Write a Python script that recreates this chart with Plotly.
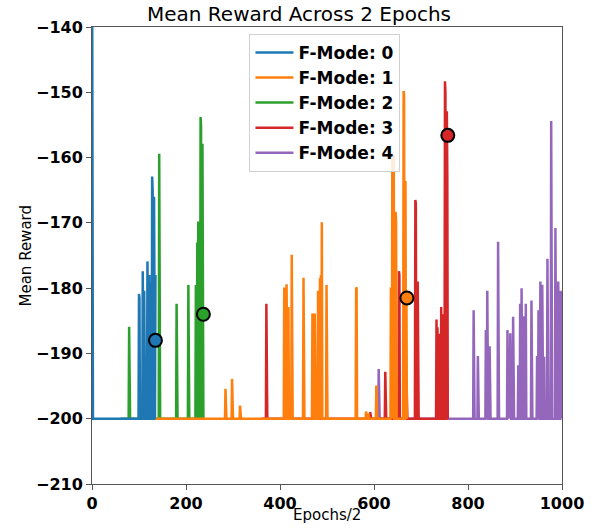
import plotly.graph_objects as go

# ---------------- data ----------------
modes = ["F-Mode: 0", "F-Mode: 1", "F-Mode: 2", "F-Mode: 3", "F-Mode: 4"]
colors = ["#1f77b4", "#ff7f0e", "#2ca02c", "#d62728", "#9467bd"]
baseline = -200
x_title = "Epochs/2"
y_title = "Mean Reward"
chart_title = "Mean Reward Across 2 Epochs"

# episode span (x start, x end) of each mode
span_0 = (0, 135)
span_1 = (135, 670)
span_2 = (60, 240)
span_3 = (360, 757)
span_4 = (600, 1000)

# spikes (x, mean reward) above the -200 baseline
spike_x_0 = [0, 100, 101, 108, 111, 118, 122, 124, 128, 129, 132, 135]
spike_y_0 = [-120, -180.9, -181.5, -177.4, -180.4, -175.9, -178, -179.2, -162.9, -165, -166, -178]

spike_x_1 = [284, 298, 315, 409, 410, 414, 418, 425, 450, 469, 470, 474, 481, 485, 487, 489, 499,
             562, 563, 583, 588, 605, 636, 637, 639, 640, 642, 646, 647, 663, 664, 667, 669]
spike_y_1 = [-195.4, -193.9, -198, -179.9, -180.5, -179.4, -182.9, -174.9, -178.4, -183.9, -184.2, -183.9, -180.4,
             -178.5, -178, -169.9, -179.5, -179.9, -180, -198.9, -199.2, -194.9, -179.9, -180.5, -159.3, -160,
             -159.6, -168.3, -170, -149.8, -150.5, -163.6, -181.5]

spike_x_2 = [79, 143, 180, 205, 221, 224, 226, 228, 231, 232, 235]
spike_y_2 = [-185.9, -159.4, -182.4, -179.5, -179.5, -173, -169.8, -172, -153.8, -155, -157.9]

spike_x_3 = [371, 592, 624, 653, 654, 669, 688, 689, 693, 733, 735, 739, 743, 745, 751, 752, 755, 756]
spike_y_3 = [-182.4, -199, -192.8, -177.4, -178, -194, -166.5, -167, -179.0, -184.8, -186, -187, -182.9,
             -184, -148.3, -150, -152.9, -163]

spike_x_4 = [610, 755, 812, 821, 838, 841, 846, 864, 884, 887, 890, 896, 907, 911, 914, 919, 923, 935,
             947, 950, 954, 958, 962, 969, 977, 986, 992, 997, 1000]
spike_y_4 = [-192.4, -192.6, -183.4, -190.4, -186.4, -180.4, -188.9, -172.9, -186.4, -190, -186.9, -184.4,
             -191.8, -182.4, -180, -184.3, -182.4, -181.9, -190.4, -183.4, -179, -179.5, -190.5, -175.5,
             -154.4, -170.8, -179, -180.4, -180.5]

# marker points (mean of each mode)
marker_x = [135, 670, 237, 757]
marker_y = [-188.0, -181.5, -184.0, -156.6]
marker_mode = [0, 1, 2, 3]

spans = [span_0, span_1, span_2, span_3, span_4]
spike_xs = [spike_x_0, spike_x_1, spike_x_2, spike_x_3, spike_x_4]
spike_ys = [spike_y_0, spike_y_1, spike_y_2, spike_y_3, spike_y_4]


def build(span, sx, sy):
    xs = list(range(span[0], span[1] + 1))
    ys = [baseline] * len(xs)
    for x, y in zip(sx, sy):
        if span[0] <= x <= span[1]:
            ys[x - span[0]] = y
    return xs, ys


fig = go.Figure()
draw_order = [4, 3, 2, 1, 0]
for i in draw_order:
    xs, ys = build(spans[i], spike_xs[i], spike_ys[i])
    fig.add_trace(go.Scatter(
        x=xs, y=ys, mode="lines", name=modes[i], legendrank=i + 1,
        line=dict(color=colors[i], width=2.5),
    ))

for x, y, m in zip(marker_x, marker_y, marker_mode):
    fig.add_trace(go.Scatter(
        x=[x], y=[y], mode="markers", showlegend=False,
        marker=dict(size=13, color=colors[m], line=dict(color="black", width=2)),
    ))

tickfont = dict(family="DejaVu Sans", size=16, color="black", weight="bold")
axis_common = dict(
    showgrid=False, zeroline=False, showline=True, linecolor="#555555", linewidth=1,
    mirror=True, ticks="outside", ticklen=5, tickcolor="#555555", tickfont=tickfont,
    automargin=False,
)
label_font = dict(family="DejaVu Sans", size=15, color="black")

fig.update_layout(
    width=598, height=529,
    margin=dict(l=92, r=36, t=27, b=45),
    paper_bgcolor="white", plot_bgcolor="white",
    title=dict(text=chart_title, x=0.5, xanchor="center", y=0.973, yanchor="middle",
               font=dict(family="DejaVu Sans", size=20, color="black")),
    xaxis=dict(range=[0, 1000], dtick=200, tick0=0, **axis_common),
    yaxis=dict(range=[-210, -140], dtick=10, tick0=-210, **axis_common),
    legend=dict(x=0.335, y=0.985, xanchor="left", yanchor="top", itemwidth=38,
                bgcolor="rgba(255,255,255,0.85)", bordercolor="#d0d0d0", borderwidth=1,
                font=dict(family="DejaVu Sans", size=17, color="black", weight="bold"),
                tracegroupgap=0),
    showlegend=True,
    annotations=[
        dict(text=x_title, xref="paper", yref="paper", x=0.5, y=0, yshift=-31,
             xanchor="center", yanchor="middle", showarrow=False, font=label_font),
        dict(text=y_title, xref="paper", yref="paper", x=0, y=0.5, xshift=-67,
             xanchor="center", yanchor="middle", textangle=-90, showarrow=False, font=label_font),
    ],
)

fig.write_html("out.html")
